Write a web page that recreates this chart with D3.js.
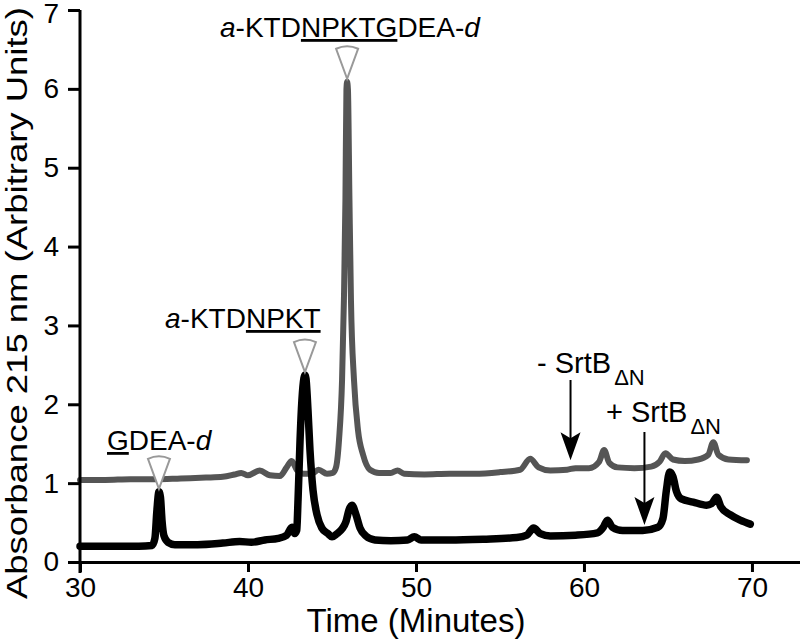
<!DOCTYPE html>
<html>
<head>
<meta charset="utf-8">
<script src="https://cdn.jsdelivr.net/npm/d3@7"></script>
<style>
  body { margin: 0; background: #fff; }
  svg { display: block; font-family: 'Liberation Sans', Arial, sans-serif; }
</style>
</head>
<body>
<div id="chart"></div>
<script>
// x ticks / y ticks
var xTicks = [30, 40, 50, 60, 70]
var yTicks = [0, 1, 2, 3, 4, 5, 6, 7]

// - SrtB trace (grey)
var minusTime = [30.0, 31.5, 33.0, 34.5, 36.0, 37.5, 38.5, 39.2, 39.6, 40.0, 40.7, 41.3, 41.9, 42.3, 42.6, 42.9, 43.3, 43.8, 44.2, 44.7, 45.05, 45.24, 45.42, 45.60, 45.71, 45.80, 45.86, 45.90, 45.95, 46.04, 46.13, 46.31, 46.55, 46.85, 47.26, 47.8, 48.5, 48.9, 49.3, 50.5, 52.0, 53.5, 55.0, 56.2, 56.8, 57.3, 58.0, 59.0, 59.5, 60.3, 60.9, 61.2, 61.5, 62.0, 63.0, 64.0, 64.5, 64.85, 65.3, 66.0, 66.8, 67.4, 67.7, 68.0, 68.6, 69.7]
var minusValue = [1.04, 1.04, 1.05, 1.05, 1.06, 1.07, 1.08, 1.11, 1.13, 1.10, 1.16, 1.10, 1.09, 1.20, 1.28, 1.17, 1.12, 1.12, 1.17, 1.12, 1.13, 1.20, 1.55, 2.31, 3.32, 4.59, 5.99, 6.09, 5.99, 4.59, 3.32, 2.31, 1.67, 1.36, 1.17, 1.13, 1.13, 1.16, 1.12, 1.11, 1.12, 1.12, 1.14, 1.17, 1.31, 1.20, 1.16, 1.17, 1.19, 1.19, 1.27, 1.42, 1.26, 1.20, 1.19, 1.21, 1.27, 1.38, 1.30, 1.28, 1.30, 1.36, 1.52, 1.36, 1.30, 1.29]

// + SrtB trace (black)
var plusTime = [30.0, 32.0, 33.5, 34.29, 34.46, 34.58, 34.70, 34.79, 34.88, 35.00, 35.24, 35.65, 37.0, 38.5, 39.5, 40.2, 41.0, 41.8, 42.3, 42.62, 42.78, 42.9, 42.98, 43.10, 43.21, 43.33, 43.39, 43.45, 43.57, 43.69, 43.87, 44.11, 44.40, 44.76, 45.0, 45.3, 45.6, 45.83, 46.01, 46.19, 46.43, 46.67, 47.02, 47.56, 48.5, 49.5, 49.9, 50.3, 52.0, 54.0, 56.0, 56.6, 57.0, 57.4, 58.0, 59.5, 60.8, 61.15, 61.4, 61.7, 62.3, 63.5, 64.4, 64.7, 64.9, 65.1, 65.3, 65.5, 65.8, 66.5, 67.3, 67.6, 67.9, 68.15, 68.7, 69.3, 69.9]
var plusValue = [0.20, 0.20, 0.20, 0.21, 0.30, 0.66, 0.89, 0.82, 0.53, 0.33, 0.25, 0.22, 0.22, 0.24, 0.26, 0.25, 0.28, 0.30, 0.34, 0.44, 0.36, 0.40, 0.79, 1.55, 2.05, 2.33, 2.37, 2.33, 1.93, 1.42, 0.91, 0.60, 0.43, 0.36, 0.32, 0.36, 0.42, 0.51, 0.66, 0.72, 0.60, 0.43, 0.33, 0.28, 0.27, 0.28, 0.32, 0.28, 0.28, 0.29, 0.31, 0.34, 0.43, 0.36, 0.33, 0.34, 0.37, 0.44, 0.53, 0.44, 0.40, 0.40, 0.44, 0.55, 0.90, 1.14, 1.08, 0.90, 0.80, 0.76, 0.72, 0.74, 0.82, 0.70, 0.60, 0.53, 0.48]

// peaks marked with a triangle (time, value)
var peakTime = [34.70, 43.39, 45.90]
var peakValue = [0.89, 2.37, 6.09]

var svgWidth = 800
var svgHeight = 642

var svg = d3.select('#chart')
  .append('svg')
  .attr('width', svgWidth)
  .attr('height', svgHeight)

var x = d3.scaleLinear().domain([30, 72.86]).range([80, 800])
var y = d3.scaleLinear().domain([0, 7]).range([562, 10])

// traces
var line = d3.line()
  .x(d => x(d[0]))
  .y(d => y(d[1]))
  .curve(d3.curveMonotoneX)

svg.append('path')
  .datum(minusTime.map((t, i) => [t, minusValue[i]]))
  .attr('d', line)
  .attr('fill', 'none')
  .attr('stroke', '#555')
  .attr('stroke-width', 6)
  .attr('stroke-linejoin', 'round')
  .attr('stroke-linecap', 'round')

svg.append('path')
  .datum(plusTime.map((t, i) => [t, plusValue[i]]))
  .attr('d', line)
  .attr('fill', 'none')
  .attr('stroke', '#000')
  .attr('stroke-width', 7.5)
  .attr('stroke-linejoin', 'round')
  .attr('stroke-linecap', 'round')

// axes
var xAxis = svg.append('g')
  .attr('transform', `translate(0, ${y(0)})`)
  .call(d3.axisBottom(x).tickValues(xTicks).tickSize(10).tickSizeOuter(0).tickPadding(5))
var yAxis = svg.append('g')
  .attr('transform', `translate(${x(30)}, 0)`)
  .call(d3.axisLeft(y).tickValues(yTicks).tickFormat(d3.format('d')).tickSize(12).tickSizeOuter(0).tickPadding(9))

svg.selectAll('.domain, .tick line').attr('stroke', '#000').attr('stroke-width', 3)
svg.selectAll('.tick text').attr('font-size', 28).attr('fill', '#000')
  .attr('font-family', "'Liberation Sans', Arial, sans-serif")

// top label sits on the edge, nudge it down a bit
yAxis.selectAll('.tick text').filter(d => d === 7).attr('dy', '0.45em')

// y axis runs down past the x axis
yAxis.select('.domain').attr('d', `M0,${y(7)}V${y(0) + 11}`)

// axis titles
svg.append('text')
  .attr('x', (x(30) + x(70)) / 2)
  .attr('y', 632)
  .attr('text-anchor', 'middle')
  .attr('font-size', 33)
  .text('Time (Minutes)')

svg.append('text')
  .attr('transform', `translate(27, ${(600 + 6) / 2}) rotate(-90)`)
  .attr('text-anchor', 'middle')
  .attr('font-size', 29)
  .attr('textLength', 592)
  .attr('lengthAdjust', 'spacingAndGlyphs')
  .text('Absorbance 215 nm (Arbitrary Units)')

// triangles on peaks
svg.selectAll('.tri')
  .data(peakTime.map((t, i) => [t, peakValue[i]]))
  .enter()
  .append('path')
  .attr('class', 'tri')
  .attr('transform', d => `translate(${x(d[0])}, ${y(d[1]) - 3})`)
  .attr('d', 'M0,0L-11,-30Q0,-35 11,-30Z')
  .attr('fill', '#fff')
  .attr('stroke', '#999')
  .attr('stroke-width', 2)

// peak labels
function label (px, py, parts) {
  var t = svg.append('text').attr('x', px).attr('y', py).attr('font-size', 28)
  parts.forEach(function (p) {
    var s = t.append('tspan').text(p[0])
    if (p[1] === 'i') s.attr('font-style', 'italic')
    if (p[1] === 'u') s.attr('text-decoration', 'underline')
  })
  return t
}
label(107, 450, [['G', 'u'], ['DEA-', ''], ['d', 'i']])
label(165, 328, [['a', 'i'], ['-KTD', ''], ['NPKT', 'u']])
label(220, 37, [['a', 'i'], ['-KTD', ''], ['NPKTG', 'u'], ['DEA-', ''], ['d', 'i']])

// - / + SrtB labels with arrows
function srt (px, py, sign) {
  var t = svg.append('text').attr('x', px).attr('y', py).attr('font-size', 29)
  t.append('tspan').text(sign + ' SrtB')
  t.append('tspan').attr('font-size', 22).attr('dx', 3).attr('dy', 12).text('\u0394N')
}
srt(537, 373, '-')
srt(606, 422, '+')

function arrow (t, v, top) {
  var ax = x(t)
  var tip = y(v)
  svg.append('line')
    .attr('x1', ax).attr('x2', ax)
    .attr('y1', top).attr('y2', tip - 20)
    .attr('stroke', '#000').attr('stroke-width', 2)
  svg.append('path')
    .attr('d', `M${ax},${tip}L${ax - 10},${tip - 28}L${ax},${tip - 22}L${ax + 10},${tip - 28}Z`)
    .attr('fill', '#000')
}
arrow(59.2, 1.29, 380)
arrow(63.6, 0.47, 432)
</script>
</body>
</html>
